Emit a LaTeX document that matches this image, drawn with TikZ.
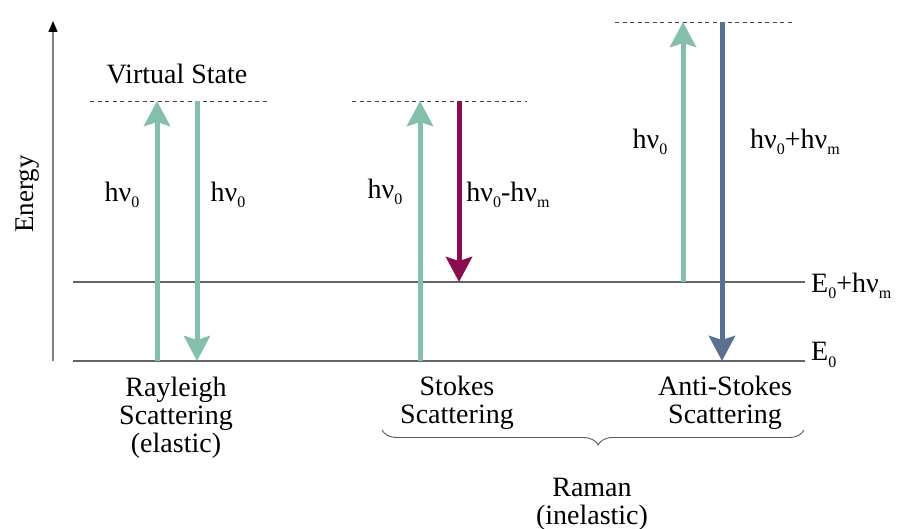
\documentclass[tikz,border=0pt]{standalone}
\usepackage{fontspec}
\setmainfont{Liberation Serif}
\usetikzlibrary{arrows.meta,decorations.pathreplacing}
\definecolor{teal1}{RGB}{132,191,170}
\definecolor{crim}{RGB}{140,12,80}
\definecolor{slate}{RGB}{88,113,145}
\definecolor{lvl}{RGB}{100,100,100}
\newcommand\sbs[1]{\raisebox{-0.5ex}{\fontsize{16}{16}\selectfont #1}}
\tikzset{
  lbl/.style={font=\fontsize{28}{28}\selectfont, inner sep=0pt, align=center},
  level/.style={draw=lvl, line width=1.1pt},
  vstate/.style={draw=black!75, dashed, dash pattern=on 4pt off 3.5pt, line width=0.8pt},
  photon/.style={line width=5pt, -{Stealth[length=25pt,width=26pt,inset=4pt]}},
}
\begin{document}
\begin{tikzpicture}[x=1pt,y=-1pt]
\useasboundingbox (0,0) rectangle (900,529);
% axis
\coordinate (axb) at (53,361);
\coordinate (axt) at (53,21);
\draw[draw=black!50, line width=1.4pt, -{Triangle[length=11pt,width=9pt,fill=black,color=black]}] (axb) -- (axt);
\node[lbl, font=\fontsize{27}{27}\selectfont, rotate=90] (energy) at (28,194) {Energy};
% levels
\coordinate (e0l) at (73,361); \coordinate (e0r) at (805,361);
\coordinate (e1l) at (73,282); \coordinate (e1r) at (805,282);
\draw[level] (e0l) -- (e0r);
\draw[level] (e1l) -- (e1r);
\node[lbl, anchor=west] (e0lab) at (811,355) {E\sbs{0}};
\node[lbl, anchor=west] (e1lab) at (811,286) {E\sbs{0}+hν\sbs{m}};
% virtual states
\coordinate (v1l) at (90,101); \coordinate (v1r) at (267,101);
\coordinate (v2l) at (352,101); \coordinate (v2r) at (527,101);
\coordinate (v3l) at (615,22); \coordinate (v3r) at (792,22);
\draw[vstate] (v1l) -- (v1r);
\draw[vstate] (v2l) -- (v2r);
\draw[vstate] (v3l) -- (v3r);
\node[lbl] (vs) at (177,74) {Virtual State};
% Rayleigh
\coordinate (r1b) at (157,361); \coordinate (r1t) at (157,101);
\coordinate (r2t) at (197,101); \coordinate (r2b) at (197,361);
\draw[photon, teal1] (r1b) -- (r1t);
\draw[photon, teal1] (r2t) -- (r2b);
\node[lbl] (hr1) at (122,195) {hν\sbs{0}};
\node[lbl] (hr2) at (228,195) {hν\sbs{0}};
% Stokes
\coordinate (s1b) at (420,361); \coordinate (s1t) at (420,101);
\coordinate (s2t) at (459,101); \coordinate (s2b) at (459,282);
\draw[photon, teal1] (s1b) -- (s1t);
\draw[photon, crim] (s2t) -- (s2b);
\node[lbl] (hs1) at (385,192) {hν\sbs{0}};
\node[lbl] (hs2) at (508,195) {hν\sbs{0}-hν\sbs{m}};
% Anti-Stokes
\coordinate (a1b) at (683,282); \coordinate (a1t) at (683,22);
\coordinate (a2t) at (722,22); \coordinate (a2b) at (722,361);
\draw[photon, teal1] (a1b) -- (a1t);
\draw[photon, slate] (a2t) -- (a2b);
\node[lbl] (ha1) at (650,142) {hν\sbs{0}};
\node[lbl] (ha2) at (795,142) {hν\sbs{0}+hν\sbs{m}};
% bottom labels
\node[lbl] (ray) at (176,418) {Rayleigh\\Scattering\\(elastic)};
\node[lbl] (sto) at (457,403) {Stokes\\Scattering};
\node[lbl] (ast) at (725,403) {Anti-Stokes\\Scattering};
% brace
\coordinate (bl) at (382,430); \coordinate (br) at (804,430);
\draw[draw=black!65, line width=0.9pt, decorate, decoration={brace, mirror, amplitude=15pt, aspect=0.512}] (bl) -- (br);
\node[lbl] (ram) at (592,504) {Raman\\(inelastic)};
\end{tikzpicture}
\end{document}
